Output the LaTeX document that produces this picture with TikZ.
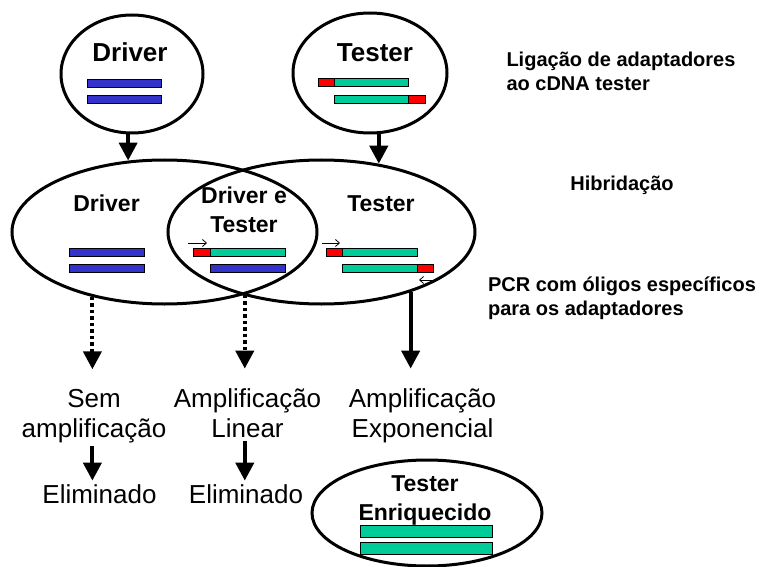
\documentclass[tikz,border=0pt]{standalone}
\usepackage{fontspec}
\setmainfont{Liberation Sans}
\usepackage{xcolor}
\usetikzlibrary{shapes.geometric, arrows.meta, positioning}

\definecolor{dnablue}{RGB}{51,51,204}
\definecolor{dnagreen}{RGB}{0,204,153}
\definecolor{dnared}{RGB}{255,0,0}

\begin{document}
\begin{tikzpicture}[
    x=1pt, y=-1pt,
    every node/.style={align=center}
]
    % Define styles
    \tikzstyle{cell} = [ellipse, draw=black, line width=3pt, inner sep=0pt]
    \tikzstyle{title} = [anchor=base, font=\bfseries\fontsize{26}{30}\selectfont]
    \tikzstyle{subtitle} = [anchor=base, font=\bfseries\fontsize{23}{29}\selectfont]
    \tikzstyle{note} = [anchor=base, align=left, font=\bfseries\fontsize{20}{24}\selectfont]
    \tikzstyle{result} = [anchor=base, font=\fontsize{26}{30}\selectfont]
    \tikzstyle{strand} = [rectangle, draw=black, line width=0.8pt, inner sep=0pt, outer sep=0pt, minimum height=8pt, anchor=west]
    \tikzstyle{arrow} = [line width=4pt, -{Triangle[length=18pt, width=18pt]}]
    \tikzstyle{dotarrow} = [arrow, dash pattern=on 3.5pt off 3pt]
    \tikzstyle{primer} = [line width=0.8pt, -{Straight Barb[length=4pt, width=7pt]}]

    \useasboundingbox (0,0) rectangle (763,567);

    % Starting populations
    \node [cell, minimum width=142pt, minimum height=118pt] (drv) at (132,74) {};
    \node [cell, minimum width=154pt, minimum height=120pt] (tst) at (370,73) {};
    \node [title] (drvlbl) at (130,62) {Driver};
    \node [title] (tstlbl) at (375,62) {Tester};
    \node [strand, fill=dnablue, minimum width=74pt] (d1) at (87,83) {};
    \node [strand, fill=dnablue, minimum width=74pt] (d2) at (87,99) {};
    \node [strand, fill=dnared, minimum width=16pt] (t1r) at (318,82.5) {};
    \node [strand, fill=dnagreen, minimum width=74pt, right=0pt of t1r] (t1g) {};
    \node [strand, fill=dnagreen, minimum width=74pt] (t2g) at (334,99) {};
    \node [strand, fill=dnared, minimum width=17pt, right=0pt of t2g] (t2r) {};

    % Hybridisation
    \node [cell, minimum width=305pt, minimum height=144pt] (hdrv) at (164.5,232) {};
    \node [cell, minimum width=307pt, minimum height=144pt] (htst) at (321.5,232) {};
    \node [subtitle] (hdrvlbl) at (106.5,211) {Driver};
    \node [subtitle] (bothlbl) at (244,232) {Driver e\\Tester};
    \node [subtitle] (htstlbl) at (381,211) {Tester};

    \node [strand, fill=dnablue, minimum width=75pt] (b1) at (69,252) {};
    \node [strand, fill=dnablue, minimum width=75pt] (b2) at (69,268) {};
    \node [strand, fill=dnared, minimum width=17pt] (l1r) at (193,252) {};
    \node [strand, fill=dnagreen, minimum width=75pt, right=0pt of l1r] (l1g) {};
    \node [strand, fill=dnablue, minimum width=75pt] (l2b) at (210,268) {};
    \node [strand, fill=dnared, minimum width=16pt] (r1r) at (326,252) {};
    \node [strand, fill=dnagreen, minimum width=75pt, right=0pt of r1r] (r1g) {};
    \node [strand, fill=dnagreen, minimum width=75pt] (r2g) at (342,268) {};
    \node [strand, fill=dnared, minimum width=16pt, right=0pt of r2g] (r2r) {};

    % Primers
    \draw [primer] ([shift={(-5pt,5pt)}]l1r.north west) -- ++(19pt,0);
    \draw [primer] ([shift={(-4pt,5pt)}]r1r.north west) -- ++(18pt,0);
    \draw [primer] ([shift={(5pt,-8pt)}]r2r.south east) -- ++(-19pt,0);

    % Steps
    \node [note] (lig) at (621,91) {Ligação de adaptadores\\ao cDNA tester};
    \node [note] (hib) at (622,190) {Hibridação};
    \node [note] (pcr) at (622,315) {PCR com óligos específicos\\para os adaptadores};

    % Outcomes
    \node [result] (sem) at (94,437) {Sem\\amplificação};
    \node [result] (lin) at (247.5,437) {Amplificação\\Linear};
    \node [result] (expo) at (422.5,437) {Amplificação\\Exponencial};
    \node [result] (elim1) at (99.5,503) {Eliminado};
    \node [result] (elim2) at (246,503) {Eliminado};

    \node [cell, minimum width=230pt, minimum height=106pt] (enr) at (427,513) {};
    \node [subtitle] (enrlbl) at (425,520) {Tester\\Enriquecido};
    \node [strand, fill=dnagreen, minimum width=132pt, minimum height=12pt] (e1) at (360,531) {};
    \node [strand, fill=dnagreen, minimum width=132pt, minimum height=12pt] (e2) at (360,548.5) {};

    % Arrows
    \draw [arrow] (hdrv.117 |- drv.south) -- (hdrv.117);
    \draw [arrow] (htst.50 |- tst.south) -- (htst.50);
    \draw [dotarrow, shorten >=16pt] (hdrv.222) -- (hdrv.222 |- sem.north);
    \draw [dotarrow, shorten >=16pt] (hdrv.322) -- (hdrv.322 |- lin.north);
    \draw [arrow, shorten >=16pt] (htst.326) -- (htst.326 |- expo.north);
    \draw [arrow] (hdrv.222 |- sem.south) -- (hdrv.222 |- elim1.north);
    \draw [arrow] (hdrv.322 |- lin.south) -- (hdrv.322 |- elim2.north);

\end{tikzpicture}
\end{document}
